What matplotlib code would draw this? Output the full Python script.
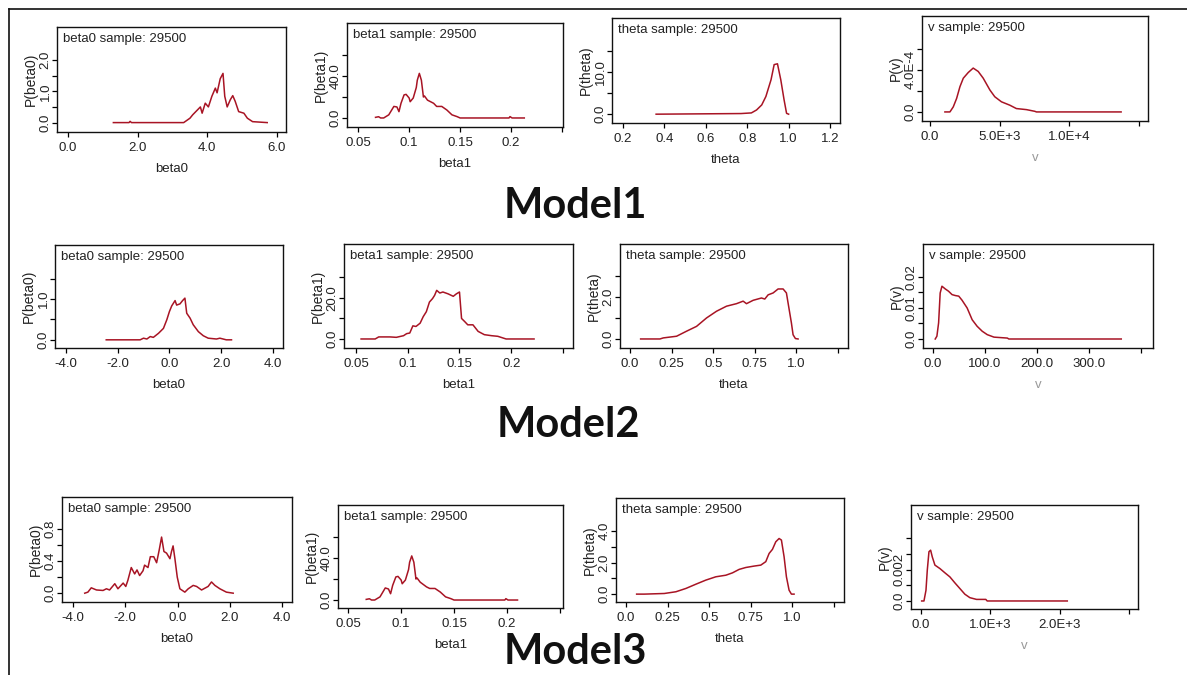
import matplotlib.pyplot as plt
from matplotlib.lines import Line2D

plt.rcParams['font.family'] = ['Liberation Sans', 'DejaVu Sans']

# ---- data ----
# Model1
m1_beta0_x = [1.3, 1.75, 1.78, 1.82, 3.32, 3.5, 3.58, 3.8, 3.85, 3.94, 4.03, 4.13, 4.23, 4.28, 4.37,
              4.45, 4.5, 4.57, 4.66, 4.73, 4.8, 4.9, 5.05, 5.15, 5.3, 5.72]
m1_beta0_y = [0.0, 0.0, 0.04, 0.0, 0.0, 0.14, 0.25, 0.5, 0.3, 0.62, 0.5, 0.84, 1.1, 0.95, 1.4,
              1.57, 0.84, 0.5, 0.73, 0.86, 0.68, 0.35, 0.3, 0.14, 0.03, 0.0]
m1_beta1_x = [0.067, 0.070, 0.072, 0.075, 0.080, 0.085, 0.088, 0.090, 0.092, 0.095, 0.097, 0.100, 0.101,
              0.104, 0.107, 0.108, 0.110, 0.112, 0.114, 0.115, 0.118, 0.124, 0.127, 0.132, 0.137, 0.142,
              0.147, 0.150, 0.198, 0.199, 0.201, 0.213]
m1_beta1_y = [0.6, 1.2, 0.0, 0.0, 3.0, 11.0, 10.5, 6.0, 14.0, 22.0, 22.5, 19.0, 15.5,
              19.0, 29.0, 36.0, 42.5, 36.0, 20.0, 21.0, 17.0, 14.0, 11.0, 11.0, 7.6, 3.0,
              1.3, 0.0, 0.0, 1.3, 0.0, 0.0]
m1_theta_x = [0.36, 0.77, 0.82, 0.845, 0.87, 0.89, 0.915, 0.93, 0.946, 0.962, 0.978, 0.99, 1.0]
m1_theta_y = [0.0, 0.15, 0.3, 1.0, 2.2, 4.2, 8.2, 11.8, 12.0, 8.2, 3.4, 0.2, 0.0]
m1_v_x = [1070, 1430, 1670, 1910, 2150, 2390, 2745, 3100, 3460, 3820, 4300, 4650, 5130, 5730, 6200,
          6920, 7520, 7640, 13720]
m1_v_y = [0.0, 0.0, 0.48e-4, 1.28e-4, 2.4e-4, 3.2e-4, 3.74e-4, 4.16e-4, 3.84e-4, 3.2e-4, 2.08e-4,
          1.44e-4, 0.96e-4, 0.64e-4, 0.32e-4, 0.22e-4, 0.06e-4, 0.0, 0.0]

# Model2
m2_beta0_x = [-2.44, -1.13, -1.0, -0.87, -0.74, -0.62, -0.42, -0.23, -0.1, 0.0, 0.09, 0.22, 0.28, 0.41,
              0.51, 0.6, 0.67, 0.8, 0.92, 1.12, 1.31, 1.5, 1.82, 1.95, 2.2, 2.4]
m2_beta0_y = [0.0, 0.0, 0.04, 0.02, 0.08, 0.06, 0.16, 0.28, 0.49, 0.69, 0.83, 0.96, 0.85, 0.88,
              0.96, 1.02, 0.65, 0.53, 0.37, 0.2, 0.1, 0.04, 0.02, 0.04, 0.0, 0.0]
m2_beta1_x = [0.055, 0.0686, 0.072, 0.083, 0.089, 0.096, 0.099, 0.102, 0.105, 0.108, 0.112, 0.115, 0.118,
              0.121, 0.124, 0.126, 0.128, 0.131, 0.134, 0.139, 0.144, 0.147, 0.150, 0.152, 0.155, 0.158,
              0.163, 0.168, 0.174, 0.181, 0.187, 0.195, 0.222]
m2_beta1_y = [0.0, 0.0, 1.0, 1.0, 0.8, 1.6, 2.6, 2.9, 6.4, 6.1, 7.7, 10.9, 13.3,
              18.0, 19.7, 21.3, 23.7, 22.4, 22.9, 22.0, 20.8, 22.0, 22.9, 10.0, 8.5, 6.9,
              6.9, 3.7, 2.1, 1.6, 1.3, 0.0, 0.0]
m2_theta_x = [0.064, 0.18, 0.2, 0.28, 0.34, 0.4, 0.46, 0.52, 0.58, 0.64, 0.68, 0.7, 0.74, 0.79, 0.81,
              0.83, 0.86, 0.89, 0.92, 0.94, 0.95, 0.97, 0.98, 0.994, 1.01]
m2_theta_y = [0.0, 0.0, 0.05, 0.13, 0.37, 0.6, 1.0, 1.32, 1.56, 1.68, 1.8, 1.68, 1.84, 1.95, 1.9,
              2.1, 2.19, 2.38, 2.38, 2.19, 1.71, 0.76, 0.2, 0.02, 0.0]
m2_v_x = [4.5, 7.7, 11, 14, 17.4, 24, 30, 36.8, 43, 49.7, 56, 65.8, 75.5, 85, 94.8, 104.5, 117.4,
          143, 146, 362]
m2_v_y = [0.0, 0.0009, 0.0052, 0.0148, 0.017, 0.0161, 0.0154, 0.0143, 0.014, 0.0138, 0.0125, 0.01,
          0.0062, 0.0041, 0.0025, 0.0014, 0.0006, 0.0003, 0.0, 0.0]

# Model3
m3_beta0_x = [-3.55, -3.43, -3.3, -3.1, -2.85, -2.72, -2.6, -2.4, -2.28, -2.08, -1.98, -1.9, -1.77, -1.64,
              -1.55, -1.45, -1.32, -1.26, -1.13, -1.04, -0.91, -0.8, -0.7, -0.61, -0.52, -0.42, -0.29,
              -0.23, -0.17, -0.1, -0.01, 0.09, 0.28, 0.41, 0.6, 0.73, 0.92, 1.17, 1.3, 1.43, 1.62, 1.87, 2.13]
m3_beta0_y = [0.0, 0.013, 0.067, 0.04, 0.034, 0.055, 0.04, 0.118, 0.055, 0.126, 0.084, 0.16, 0.32, 0.24,
              0.29, 0.22, 0.28, 0.35, 0.32, 0.455, 0.455, 0.38, 0.54, 0.7, 0.52, 0.5, 0.43,
              0.52, 0.59, 0.43, 0.2, 0.055, 0.013, 0.055, 0.097, 0.084, 0.04, 0.084, 0.14, 0.097, 0.055,
              0.013, 0.0]
m3_beta1_x = [0.067, 0.070, 0.072, 0.075, 0.080, 0.085, 0.088, 0.090, 0.092, 0.095, 0.097, 0.100, 0.101,
              0.104, 0.107, 0.108, 0.110, 0.112, 0.114, 0.115, 0.118, 0.124, 0.127, 0.132, 0.137, 0.142,
              0.147, 0.150, 0.198, 0.199, 0.201, 0.210]
m3_beta1_y = [0.6, 1.2, 0.0, 0.0, 3.0, 11.5, 10.5, 6.0, 14.0, 22.0, 22.5, 19.0, 15.5,
              19.0, 29.0, 36.0, 42.0, 36.0, 20.0, 21.0, 17.0, 12.5, 11.0, 11.0, 7.6, 3.0,
              1.3, 0.0, 0.0, 1.3, 0.0, 0.0]
m3_theta_x = [0.064, 0.11, 0.23, 0.3, 0.36, 0.42, 0.48, 0.54, 0.6, 0.64, 0.68, 0.72, 0.77, 0.81, 0.84,
              0.86, 0.88, 0.9, 0.92, 0.934, 0.95, 0.964, 0.98, 0.994, 1.01]
m3_theta_y = [0.0, 0.0, 0.04, 0.15, 0.36, 0.63, 0.89, 1.1, 1.2, 1.35, 1.57, 1.69, 1.78, 1.84, 2.06,
              2.58, 2.84, 3.32, 3.53, 3.43, 2.37, 1.1, 0.25, 0.0, 0.0]
m3_v_x = [10, 43, 72, 91, 115, 139, 163, 201, 273, 345, 417, 489, 561, 633, 705, 801, 935, 955, 2110]
m3_v_y = [0.0, 0.0, 0.00068, 0.00196, 0.00313, 0.00323, 0.0028, 0.00228, 0.00206, 0.00179, 0.00153,
          0.00115, 0.00079, 0.00043, 0.00021, 0.0001, 0.0001, 0.0, 0.0]

names = ['beta0', 'beta1', 'theta', 'v']
models = ['Model1', 'Model2', 'Model3']
sample_size = 29500

curves = [
    [(m1_beta0_x, m1_beta0_y), (m1_beta1_x, m1_beta1_y), (m1_theta_x, m1_theta_y), (m1_v_x, m1_v_y)],
    [(m2_beta0_x, m2_beta0_y), (m2_beta1_x, m2_beta1_y), (m2_theta_x, m2_theta_y), (m2_v_x, m2_v_y)],
    [(m3_beta0_x, m3_beta0_y), (m3_beta1_x, m3_beta1_y), (m3_theta_x, m3_theta_y), (m3_v_x, m3_v_y)],
]

# axis settings per panel: xlim, xticks, xticklabels, minor xticks, ylim, yticks, yticklabels, minor yticks
axis_cfg = [
    [
        ((-0.32, 6.26), [0, 2, 4, 6], ['0.0', '2.0', '4.0', '6.0'], [],
         (-0.3, 3.05), [0, 1, 2], ['0.0', '1.0', '2.0'], [0.5, 1.5]),
        ((0.039, 0.251), [0.05, 0.1, 0.15, 0.2], ['0.05', '0.1', '0.15', '0.2'], [0.25],
         (-8.6, 90.5), [0, 40], ['0.0', '40.0'], [20, 60]),
        ((0.147, 1.248), [0.2, 0.4, 0.6, 0.8, 1.0, 1.2], ['0.2', '0.4', '0.6', '0.8', '1.0', '1.2'], [],
         (-2.1, 22.9), [0, 10], ['0.0', '10.0'], [5, 15]),
        ((-575, 15650), [0, 5000, 10000], ['0.0', '5.0E+3', '1.0E+4'], [15000],
         (-0.86e-4, 9.1e-4), [0, 4e-4], ['0.0', '4.0E-4'], [2e-4, 6e-4]),
    ],
    [
        ((-4.42, 4.39), [-4, -2, 0, 2, 4], ['-4.0', '-2.0', '0.0', '2.0', '4.0'], [],
         (-0.2, 2.32), [0, 1], ['0.0', '1.0'], [0.5, 1.5]),
        ((0.0385, 0.2596), [0.05, 0.1, 0.15, 0.2], ['0.05', '0.1', '0.15', '0.2'], [0.25],
         (-4.4, 46.3), [0, 20], ['0.0', '20.0'], [10, 30]),
        ((-0.06, 1.31), [0, 0.25, 0.5, 0.75, 1.0], ['0.0', '0.25', '0.5', '0.75', '1.0'], [1.25],
         (-0.43, 4.52), [0, 2], ['0.0', '2.0'], [1, 3]),
        ((-19, 423), [0, 100, 200, 300], ['0.0', '100.0', '200.0', '300.0'], [400],
         (-0.0029, 0.0306), [0, 0.01, 0.02], ['0.0', '0.01', '0.02'], [0.005, 0.015]),
    ],
    [
        ((-4.42, 4.38), [-4, -2, 0, 2, 4], ['-4.0', '-2.0', '0.0', '2.0', '4.0'], [],
         (-0.11, 1.2), [0, 0.4, 0.8], ['0.0', '0.4', '0.8'], [0.2, 0.6]),
        ((0.0403, 0.253), [0.05, 0.1, 0.15, 0.2], ['0.05', '0.1', '0.15', '0.2'], [0.25],
         (-7.6, 90.5), [0, 40], ['0.0', '40.0'], [20, 60]),
        ((-0.06, 1.31), [0, 0.25, 0.5, 0.75, 1.0], ['0.0', '0.25', '0.5', '0.75', '1.0'], [1.25],
         (-0.5, 6.1), [0, 2, 4], ['0.0', '2.0', '4.0'], [1, 3]),
        ((-144, 3130), [0, 1000, 2000], ['0.0', '1.0E+3', '2.0E+3'], [3000],
         (-0.00051, 0.0061), [0, 0.002], ['0.0', '0.002'], [0.001, 0.003, 0.004]),
    ],
]

# panel boxes in pixels (left, top, right, bottom)
boxes = [
    [(57, 27, 286, 132), (347, 23, 563, 127), (612, 18, 840, 123), (922, 16, 1148, 121)],
    [(55, 245, 283, 348), (344, 244, 573, 348), (620, 244, 848, 348), (923, 244, 1153, 348)],
    [(62, 497, 292, 602), (338, 505, 563, 608), (616, 498, 844, 602), (911, 505, 1138, 609)],
]
model_pos = [(575, 218), (568, 437), (575, 664)]

W, H = 1187, 675
fig = plt.figure(figsize=(W / 100, H / 100), dpi=100)
fig.patch.set_facecolor('white')

line_color = '#a81424'
text_color = '#222222'

for r in range(3):
    for c in range(4):
        x0, y0, x1, y1 = boxes[r][c]
        ax = fig.add_axes([x0 / W, 1 - y1 / H, (x1 - x0) / W, (y1 - y0) / H])
        xs, ys = curves[r][c]
        ax.plot(xs, ys, color=line_color, lw=1.1)
        xlim, xt, xtl, xminor, ylim, yt, ytl, yminor = axis_cfg[r][c]
        ax.set_xlim(*xlim)
        ax.set_ylim(*ylim)
        ax.set_xticks(xt, xtl)
        ax.set_xticks(xminor, minor=True)
        ax.set_yticks(yt, ytl)
        ax.set_yticks(yminor, minor=True)
        for lbl in ax.get_yticklabels():
            lbl.set_rotation(90)
            lbl.set_va('center')
        ax.tick_params(which='both', direction='out', length=3.4, width=0.9, colors='black',
                       labelcolor=text_color, labelsize=9.5)
        ax.tick_params(axis='x', pad=4)
        ax.tick_params(axis='y', pad=0.5)
        for sp in ax.spines.values():
            sp.set_linewidth(1.0)
            sp.set_color('#111111')
        name = names[c]
        xl_color = '#999999' if name == 'v' else text_color
        ax.set_xlabel(name, fontsize=9.5, color=xl_color, labelpad=6)
        ax.set_ylabel('P(%s)' % name, fontsize=10, color=text_color, labelpad=1.5)
        ax.text(6 / (x1 - x0), 1 - 12 / (y1 - y0), '%s sample: %d' % (name, sample_size),
                transform=ax.transAxes, fontsize=9.5, color=text_color, va='center', ha='left')

for m, (mx, my) in zip(models, model_pos):
    fig.text(mx / W, 1 - my / H, m, fontsize=30, fontweight='bold', family='Lato',
             ha='center', va='baseline', color='#111111')

# outer frame lines
fig.add_artist(Line2D([9 / W, 1], [1 - 9 / H, 1 - 9 / H], color='#111111', lw=1.2,
                      transform=fig.transFigure))
fig.add_artist(Line2D([9 / W, 9 / W], [1 - 9 / H, 0], color='#111111', lw=1.2,
                      transform=fig.transFigure))

fig.savefig('out.png', dpi=100)
